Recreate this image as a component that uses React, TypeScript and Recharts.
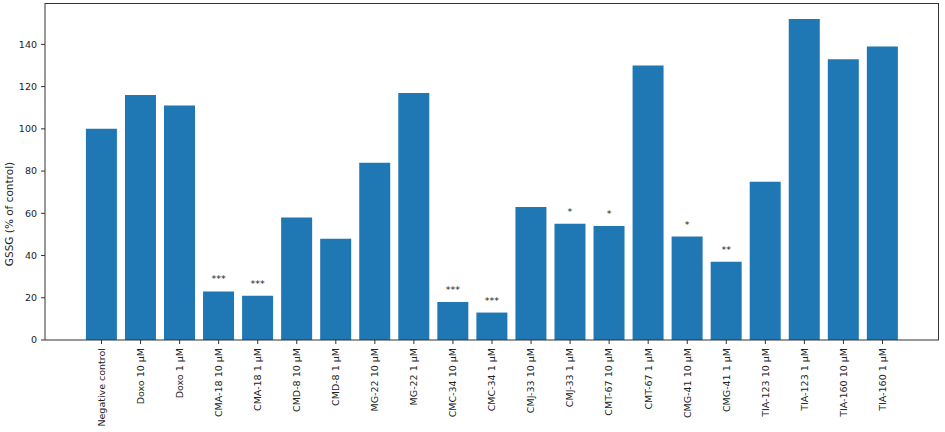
import { BarChart, Bar, XAxis, YAxis, LabelList, Label } from "recharts";

const categories = [
  "Negative control", "Doxo 10 µM", "Doxo 1 µM", "CMA-18 10 µM", "CMA-18 1 µM",
  "CMD-8 10 µM", "CMD-8 1 µM", "MG-22 10 µM", "MG-22 1 µM", "CMC-34 10 µM",
  "CMC-34 1 µM", "CMJ-33 10 µM", "CMJ-33 1 µM", "CMT-67 10 µM", "CMT-67 1 µM",
  "CMG-41 10 µM", "CMG-41 1 µM", "TIA-123 10 µM", "TIA-123 1 µM", "TIA-160 10 µM",
  "TIA-160 1 µM",
];
const gssg = [100, 116, 111, 23, 21, 58, 48, 84, 117, 18, 13, 63, 55, 54, 130, 49, 37, 75, 152, 133, 139];
const stars = ["", "", "", "***", "***", "", "", "", "", "***", "***", "", "*", "*", "", "*", "**", "", "", "", ""];
const yTicks = [0, 20, 40, 60, 80, 100, 120, 140];

const data = categories.map((name, i) => ({ name, value: gssg[i], sig: stars[i] }));

const FONT = "'DejaVu Sans', sans-serif";
const INK = "#222";
const SPINE = "#333";

function XTick({ x, y, payload }: any) {
  return (
    <g transform={`translate(${x},${y})`}>
      <text transform="rotate(-90)" textAnchor="end" dy="0.35em" fontSize={9.5} fill={INK} fontFamily={FONT}>
        {payload.value}
      </text>
    </g>
  );
}

function StarLabel({ x, y, width, value }: any) {
  if (!value) return null;
  return (
    <text x={x + width / 2} y={y - 9} textAnchor="middle" fontSize={9.5} fill={INK} fontFamily={FONT}>
      {value}
    </text>
  );
}

export default function App() {
  return (
    <div style={{ position: "absolute", left: 0, top: 0, width: 945, height: 432, background: "#fff" }}>
      <BarChart
        width={945}
        height={432}
        data={data}
        margin={{ top: 3, right: 6, bottom: 0, left: 0 }}
        barCategoryGap="10%"
        style={{ fontFamily: FONT }}
      >
        <XAxis
          dataKey="name"
          interval={0}
          height={92}
          padding={{ left: 37, right: 37 }}
          tick={<XTick />}
          tickSize={4}
          tickMargin={4}
          stroke={SPINE}
        />
        <YAxis
          domain={[0, 159.6]}
          ticks={yTicks}
          width={45}
          tickSize={4}
          tickMargin={4}
          stroke={SPINE}
          tick={{ fontSize: 9.5, fill: INK, fontFamily: FONT }}
        >
          <Label
            content={() => (
              <text
                x={12.5}
                y={214}
                transform="rotate(-90, 12.5, 214)"
                textAnchor="middle"
                fontSize={10.5}
                fill={INK}
                fontFamily={FONT}
              >
                GSSG (% of control)
              </text>
            )}
          />
        </YAxis>
        <Bar dataKey="value" fill="#1f77b4" isAnimationActive={false}>
          <LabelList dataKey="sig" content={<StarLabel />} />
        </Bar>
      </BarChart>
      {/* top and right spines of the axes frame */}
      <div
        style={{
          position: "absolute",
          left: 45,
          top: 3,
          width: 894,
          height: 337,
          boxSizing: "border-box",
          borderTop: `1px solid ${SPINE}`,
          borderRight: `1px solid ${SPINE}`,
          pointerEvents: "none",
        }}
      />
    </div>
  );
}
